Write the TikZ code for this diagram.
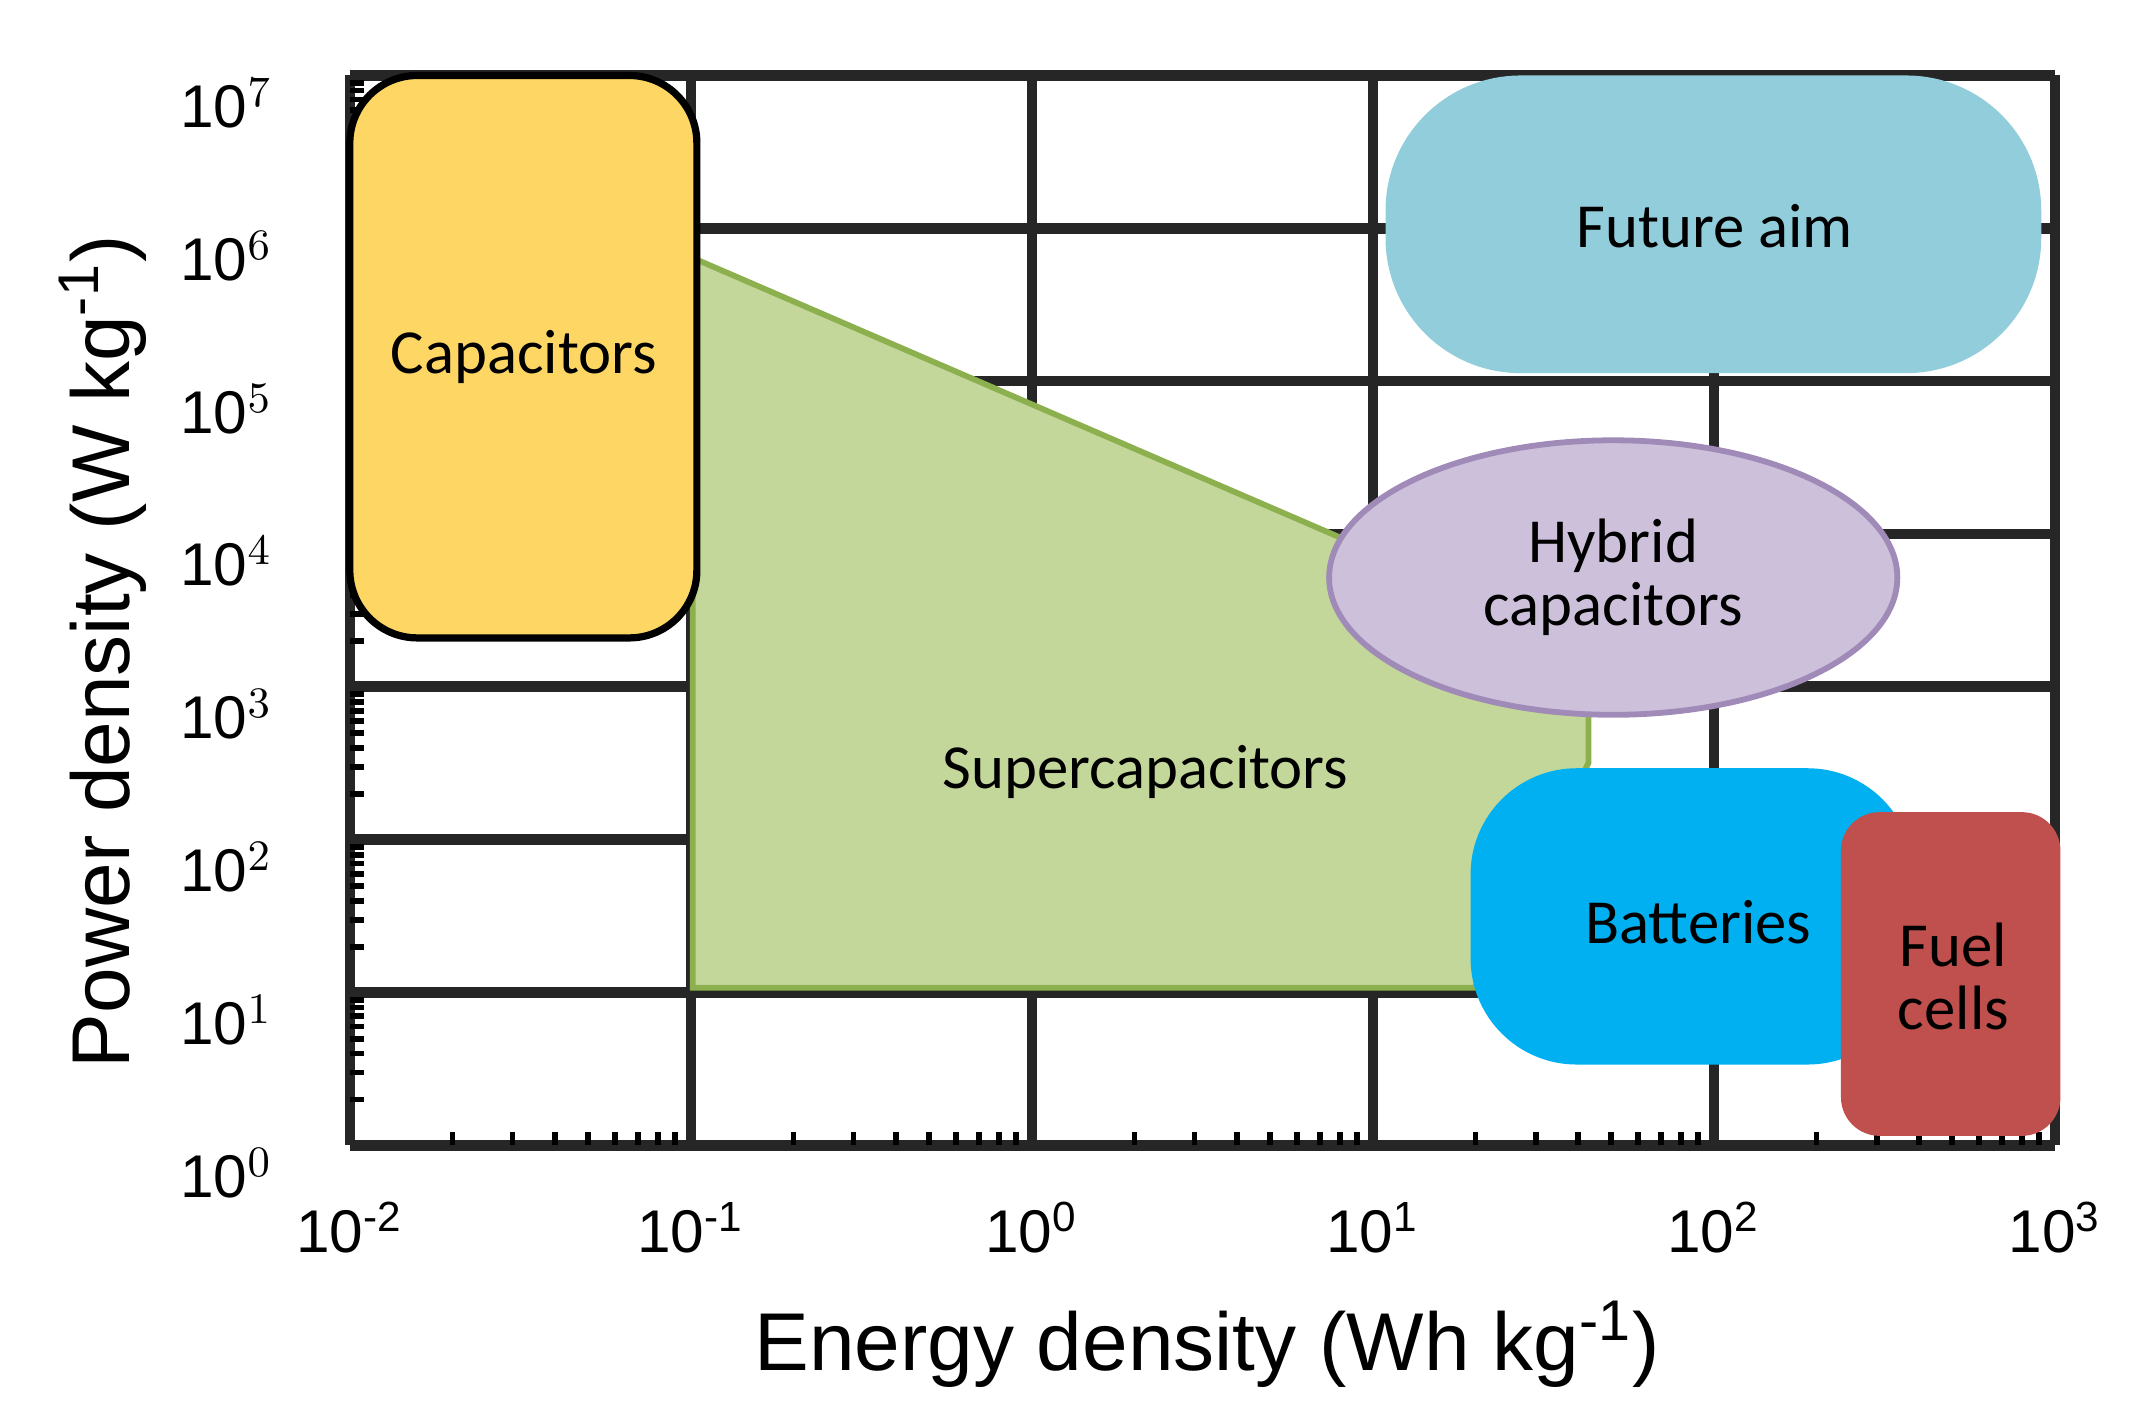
\documentclass[tikz,border=0pt]{standalone}
\usepackage{fontspec}
\setmainfont{Liberation Sans}
\newfontfamily\boxfont{Carlito}
\usetikzlibrary{shapes.geometric}
\definecolor{capcol}{HTML}{FDD663}
\definecolor{supcol}{HTML}{C4D79B}
\definecolor{supline}{HTML}{8DB04F}
\definecolor{futcol}{HTML}{92CDDC}
\definecolor{hybcol}{HTML}{CCC0DA}
\definecolor{hybline}{HTML}{9F8AB8}
\definecolor{batcol}{HTML}{00B0F0}
\definecolor{fuelcol}{HTML}{C0504D}
\tikzset{
  region/.style={font=\boxfont\fontsize{13}{15}\selectfont, align=center},
  ticklab/.style={font=\fontsize{12.5}{14}\selectfont},
  gridline/.style={line width=2.2pt, black!85}
}
\begin{document}
\begin{tikzpicture}[x=0.01cm,y=-0.01cm]
\useasboundingbox (0,0) rectangle (1560,1029);
% grid
\foreach \i in {0,...,5} {
  \draw [gridline] ({255+248.6*\i},55) -- ({255+248.6*\i},835);
}
\foreach \j in {0,...,7} {
  \draw [gridline] (255,{55+111.4*\j}) -- (1498,{55+111.4*\j});
}
% minor ticks
\foreach \i in {0,...,4} {
  \foreach \m in {2,...,9} {
    \draw [line width=1.2pt] ({255+248.6*\i+248.6*log10(\m)},835) -- ++(0,-10);
  }
}
\foreach \j in {0,...,6} {
  \foreach \m in {2,...,9} {
    \draw [line width=1.2pt] (255,{835-111.4*\j-111.4*log10(\m)}) -- ++(10,0);
  }
}
% regions
\draw [fill=supcol, draw=supline, line width=1.2pt]
  (505,188) -- (1158,470) -- (1158,556) -- (1075,720) -- (505,720) -- cycle;
\node [region] (sup) at (835,563) {Supercapacitors};
\draw [fill=capcol, line width=1.5pt, rounded corners=14pt] (255,55) rectangle (508,465);
\node [region] (cap) at (382,260) {Capacitors};
\draw [fill=futcol, draw=none, rounded corners=28pt] (1010,55) rectangle (1488,272);
\node [region] (fut) at (1250,165) {Future aim};
\node [ellipse, fill=hybcol, draw=hybline, line width=1.2pt,
  minimum width=4.14cm, minimum height=2cm, region] (hyb) at (1176,421)
  {Hybrid\\[-2pt]capacitors};
\draw [fill=batcol, draw=none, rounded corners=22pt] (1072,560) rectangle (1395,776);
\node [region] (bat) at (1238,672) {Batteries};
\draw [fill=fuelcol, draw=none, rounded corners=8pt] (1342,592) rectangle (1502,828);
\node [region] (fuel) at (1424,712) {Fuel\\[-2pt]cells};
% tick labels
\foreach \j in {0,...,7} {
  \node [ticklab] (y\j) at (165,{835+20-111.4*\j}) {10$^{\j}$};
}
\foreach \e [count=\i from 0] in {-2,-1,0,1,2,3} {
  \node [ticklab] (x\i) at ({255+248.6*\i},895) {10\textsuperscript{\e}};
}
% axis titles
\node [font=\fontsize{17}{20}\selectfont] (xt) at (880,980) {Energy density (Wh kg\textsuperscript{-1})};
\node [font=\fontsize{17}{20}\selectfont, rotate=90] (yt) at (75,475) {Power density (W kg\textsuperscript{-1})};
\end{tikzpicture}
\end{document}
